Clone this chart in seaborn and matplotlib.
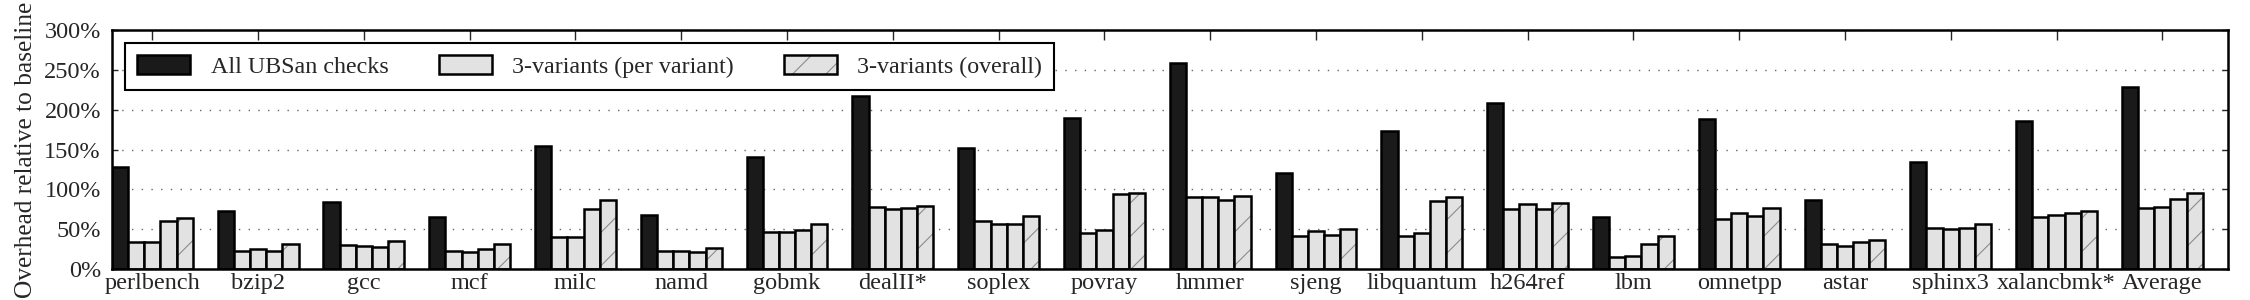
import numpy as np
import pandas as pd
import matplotlib
matplotlib.use("Agg")
import matplotlib.pyplot as plt
from matplotlib.patches import Patch
import seaborn as sns

benchmarks = ["perlbench", "bzip2", "gcc", "mcf", "milc", "namd", "gobmk", "dealII*",
              "soplex", "povray", "hmmer", "sjeng", "libquantum", "h264ref", "lbm",
              "omnetpp", "astar", "sphinx3", "xalancbmk*", "Average"]

all_ubsan = [128, 73, 84, 65, 155, 68, 141, 217, 152, 189, 259, 120, 173, 208, 65, 188, 87, 134, 186, 229]
variant_1 = [34, 23, 30, 23, 40, 23, 47, 78, 60, 45, 90, 41, 41, 75, 15, 63, 31, 52, 65, 77]
variant_2 = [34, 25, 29, 22, 40, 23, 47, 76, 56, 49, 91, 48, 45, 82, 17, 71, 29, 50, 68, 78]
variant_3 = [60, 23, 28, 25, 75, 22, 49, 77, 57, 94, 87, 43, 86, 76, 31, 66, 34, 52, 71, 88]
overall = [64, 32, 35, 32, 87, 26, 57, 79, 66, 96, 92, 50, 91, 83, 42, 77, 37, 57, 73, 95]

configs = ["all", "v1", "v2", "v3", "overall"]
series = [all_ubsan, variant_1, variant_2, variant_3, overall]

rows = []
for cfg, vals in zip(configs, series):
    for b, v in zip(benchmarks, vals):
        rows.append({"bench": b, "config": cfg, "value": v})
df = pd.DataFrame(rows)

sns.set_style("ticks")
plt.rcParams["font.family"] = ["Liberation Serif", "DejaVu Serif"]
plt.rcParams["font.size"] = 17.5
plt.rcParams["hatch.linewidth"] = 0.8

dark = "#1a1a1a"
light = "#e2e2e2"
hatch_grey = (0.55, 0.55, 0.55, 1.0)
palette = {"all": dark, "v1": light, "v2": light, "v3": light, "overall": light}

fig = plt.figure(figsize=(22.5, 3), dpi=100)
ax = fig.add_axes([0.0498, 0.103, 0.9404, 0.797])

sns.barplot(data=df, x="bench", y="value", hue="config", hue_order=configs,
            order=benchmarks, palette=palette, width=0.765, gap=0, dodge=True,
            saturation=1, edgecolor="black", linewidth=1.8, legend=False, ax=ax)

# hatch the "overall" bars
for p in ax.containers[-1]:
    p.set_hatch("/")
    p._hatch_color = hatch_grey

ax.set_xlim(-0.38, 19.62)
ax.set_ylim(0, 300)
ax.set_yticks(range(0, 301, 50))
ax.set_yticklabels([f"{v}%" for v in range(0, 301, 50)])
ax.set_xlabel("")
ax.set_ylabel("Overhead relative to baseline", fontsize=18.3, labelpad=5)

ax.yaxis.grid(True, linestyle=(0, (1, 6)), color="#666666", linewidth=1.0)
ax.set_axisbelow(True)
ax.tick_params(axis="x", direction="in", length=7, width=1, top=True, bottom=True, pad=3)
ax.tick_params(axis="y", direction="in", length=4, width=1, left=True, right=True, pad=8)
for s in ax.spines.values():
    s.set_visible(True)
    s.set_linewidth(1.8)
    s.set_color("black")

handles = [
    Patch(facecolor=dark, edgecolor="black", linewidth=1.8, label="All UBSan checks"),
    Patch(facecolor=light, edgecolor="black", linewidth=1.8, label="3-variants (per variant)"),
    Patch(facecolor=light, edgecolor="black", linewidth=1.8, hatch="/", label="3-variants (overall)"),
]
leg = ax.legend(handles=handles, loc="upper left", ncol=3, frameon=True, fancybox=False,
                framealpha=1, edgecolor="black", fontsize=17.3, handlelength=2.2,
                handleheight=0.8, handletextpad=0.85, columnspacing=2.1, borderpad=0.5,
                borderaxespad=0.55)
leg.get_frame().set_linewidth(1.5)
leg.legend_handles[2]._hatch_color = hatch_grey

fig.savefig("out.png", dpi=100)
